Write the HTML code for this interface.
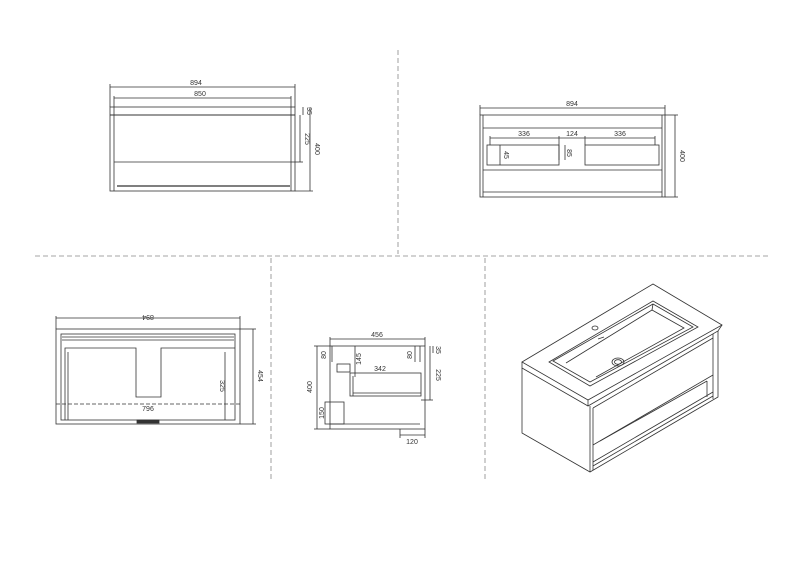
<!DOCTYPE html>
<html><head><meta charset="utf-8"><style>
html,body{margin:0;padding:0;background:#fff;}
svg{display:block;}
text{font-family:"Liberation Sans",sans-serif;font-size:7px;fill:#333;}
</style></head><body>
<svg width="800" height="561" viewBox="0 0 800 561" xmlns="http://www.w3.org/2000/svg">
<g stroke="#888" stroke-width="0.8" stroke-dasharray="5,3" fill="none">
<line x1="398" y1="50" x2="398" y2="254"/>
<line x1="35" y1="256" x2="770" y2="256"/>
<line x1="271" y1="258" x2="271" y2="482"/>
<line x1="485" y1="258" x2="485" y2="482"/>
</g>
<g stroke="#333" stroke-width="0.8" fill="none">
<!-- View 1 -->
<rect x="110" y="107" width="185" height="84"/>
<line x1="110" y1="87" x2="295" y2="87"/><line x1="110" y1="84" x2="110" y2="107"/><line x1="295" y1="84" x2="295" y2="107"/>
<line x1="114" y1="98" x2="291" y2="98"/><line x1="114" y1="96" x2="114" y2="107"/><line x1="291" y1="96" x2="291" y2="107"/>
<line x1="110" y1="115" x2="295" y2="115" stroke-width="1"/>
<line x1="114" y1="107" x2="114" y2="191"/><line x1="291" y1="107" x2="291" y2="191"/>
<line x1="114" y1="162" x2="291" y2="162"/>
<line x1="117" y1="186" x2="290" y2="186" stroke-width="1.2"/>
<line x1="303" y1="107" x2="303" y2="115"/><line x1="300" y1="115" x2="300" y2="162"/>
<line x1="310" y1="107" x2="310" y2="191"/>
<line x1="295" y1="191" x2="313" y2="191"/><line x1="291" y1="162" x2="303" y2="162"/>
<!-- View 2 -->
<rect x="480" y="115" width="185" height="82"/>
<line x1="480" y1="108" x2="665" y2="108"/><line x1="480" y1="105" x2="480" y2="115"/><line x1="665" y1="105" x2="665" y2="115"/>
<line x1="675" y1="115" x2="675" y2="197"/><line x1="665" y1="115" x2="678" y2="115"/><line x1="665" y1="197" x2="678" y2="197"/>
<line x1="483" y1="115" x2="483" y2="197"/><line x1="662" y1="115" x2="662" y2="197"/>
<line x1="483" y1="128" x2="662" y2="128"/><line x1="483" y1="170" x2="662" y2="170"/><line x1="483" y1="192" x2="662" y2="192"/>
<line x1="490" y1="138" x2="655" y2="138"/>
<line x1="490" y1="136" x2="490" y2="145"/><line x1="559" y1="136" x2="559" y2="160"/><line x1="585" y1="136" x2="585" y2="145"/><line x1="655" y1="136" x2="655" y2="145"/>
<rect x="487" y="145" width="72" height="20"/><rect x="585" y="145" width="74" height="20"/>
<line x1="500" y1="145" x2="500" y2="165"/><line x1="565" y1="145" x2="565" y2="160"/>
<!-- View 3 -->
<rect x="56" y="329" width="184" height="95"/>
<line x1="56" y1="318" x2="240" y2="318"/><line x1="56" y1="316" x2="56" y2="329"/><line x1="240" y1="316" x2="240" y2="329"/>
<line x1="253" y1="329" x2="253" y2="424"/><line x1="240" y1="329" x2="256" y2="329"/><line x1="240" y1="424" x2="256" y2="424"/>
<rect x="61" y="334" width="174" height="86"/>
<line x1="62" y1="337" x2="234" y2="337"/><line x1="62" y1="340" x2="234" y2="340"/>
<path d="M65 420 V348 H136 V397 H161 V348 H235"/>
<line x1="68" y1="352" x2="68" y2="420"/><line x1="225" y1="352" x2="225" y2="420"/>
<line x1="56" y1="404" x2="240" y2="404" stroke-dasharray="4,2"/>
<rect x="137" y="420" width="22" height="3" fill="#333"/>
<!-- View 4 -->
<rect x="330" y="346" width="95" height="83"/>
<line x1="330" y1="339" x2="425" y2="339"/><line x1="330" y1="337" x2="330" y2="346"/><line x1="425" y1="337" x2="425" y2="346"/>
<line x1="317" y1="346" x2="317" y2="429"/><line x1="314" y1="346" x2="330" y2="346"/><line x1="314" y1="429" x2="330" y2="429"/>
<line x1="400" y1="435" x2="425" y2="435"/><line x1="400" y1="429" x2="400" y2="438"/><line x1="425" y1="429" x2="425" y2="438"/>
<line x1="430" y1="346" x2="430" y2="400"/><line x1="433" y1="346" x2="433" y2="353"/><line x1="421" y1="400" x2="433" y2="400"/>
<rect x="350" y="373" width="71" height="23"/><line x1="353" y1="376" x2="353" y2="396"/><line x1="353" y1="393" x2="421" y2="393"/>
<line x1="355" y1="346" x2="355" y2="377"/>
<line x1="332" y1="346" x2="332" y2="362"/><line x1="415" y1="346" x2="415" y2="362"/><line x1="420" y1="346" x2="420" y2="362"/>
<rect x="337" y="364" width="13" height="8"/>
<rect x="325" y="402" width="19" height="22"/><line x1="330" y1="424" x2="420" y2="424"/>
<!-- Isometric -->
<path d="M522 362 L653 284 L722 325 L588 400 Z"/>
<path d="M522 362 L522 368 L588 406 L718 331 L722 325"/>
<line x1="588" y1="400" x2="588" y2="406"/>
<path d="M522 368 L522 433 L590 472 L718 397 L718 331"/>
<line x1="590" y1="406" x2="590" y2="472"/>
<line x1="593" y1="408" x2="593" y2="470"/>
<line x1="713" y1="334" x2="713" y2="399"/>
<line x1="593" y1="408" x2="713" y2="338"/>
<line x1="593" y1="445" x2="713" y2="375"/>
<line x1="600" y1="441" x2="707" y2="381"/>
<line x1="707" y1="381" x2="707" y2="397"/>
<line x1="593" y1="466" x2="713" y2="396"/>
<line x1="593" y1="462" x2="713" y2="392"/>
<path d="M549 362 L653 301 L698 327 L590 386 Z"/>
<path d="M553 361 L653 304 L693 327 L590 382 Z"/>
<path d="M566 363 L652 310 L684 328 L596 377"/>
<line x1="653" y1="304" x2="652" y2="310"/>
<ellipse cx="618" cy="362" rx="6" ry="4"/><ellipse cx="618" cy="362" rx="3.5" ry="2.3"/>
<ellipse cx="595" cy="328" rx="3" ry="2"/>
<line x1="598" y1="339" x2="604" y2="337"/>
</g>
<text x="196" y="85" text-anchor="middle">894</text>
<text x="200" y="96" text-anchor="middle">850</text>
<text transform="translate(307,111) rotate(90)" text-anchor="middle" font-size="6">35</text>
<text transform="translate(305,139) rotate(90)" text-anchor="middle">225</text>
<text transform="translate(315,149) rotate(90)" text-anchor="middle">400</text>
<text x="572" y="106" text-anchor="middle">894</text>
<text x="524" y="136" text-anchor="middle">336</text>
<text x="572" y="136" text-anchor="middle">124</text>
<text x="620" y="136" text-anchor="middle">336</text>
<text transform="translate(504,155) rotate(90)" text-anchor="middle" font-size="6">45</text>
<text transform="translate(567,153) rotate(90)" text-anchor="middle" font-size="6">85</text>
<text transform="translate(680,156) rotate(90)" text-anchor="middle">400</text>
<text transform="translate(148,315) rotate(180)" text-anchor="middle">894</text>
<text transform="translate(258,376) rotate(90)" text-anchor="middle">454</text>
<text transform="translate(220,386) rotate(90)" text-anchor="middle">325</text>
<text x="148" y="411" text-anchor="middle">796</text>
<text x="377" y="337" text-anchor="middle">456</text>
<text x="380" y="371" text-anchor="middle">342</text>
<text transform="translate(312,387) rotate(-90)" text-anchor="middle">400</text>
<text transform="translate(326,355) rotate(-90)" text-anchor="middle" font-size="6">80</text>
<text transform="translate(412,355) rotate(-90)" text-anchor="middle" font-size="6">80</text>
<text transform="translate(361,359) rotate(-90)" text-anchor="middle" font-size="6">145</text>
<text transform="translate(436,350) rotate(90)" text-anchor="middle" font-size="6">35</text>
<text transform="translate(436,375) rotate(90)" text-anchor="middle">225</text>
<text transform="translate(324,413) rotate(-90)" text-anchor="middle" font-size="6">150</text>
<text x="412" y="444" text-anchor="middle">120</text>
</svg>
</body></html>
